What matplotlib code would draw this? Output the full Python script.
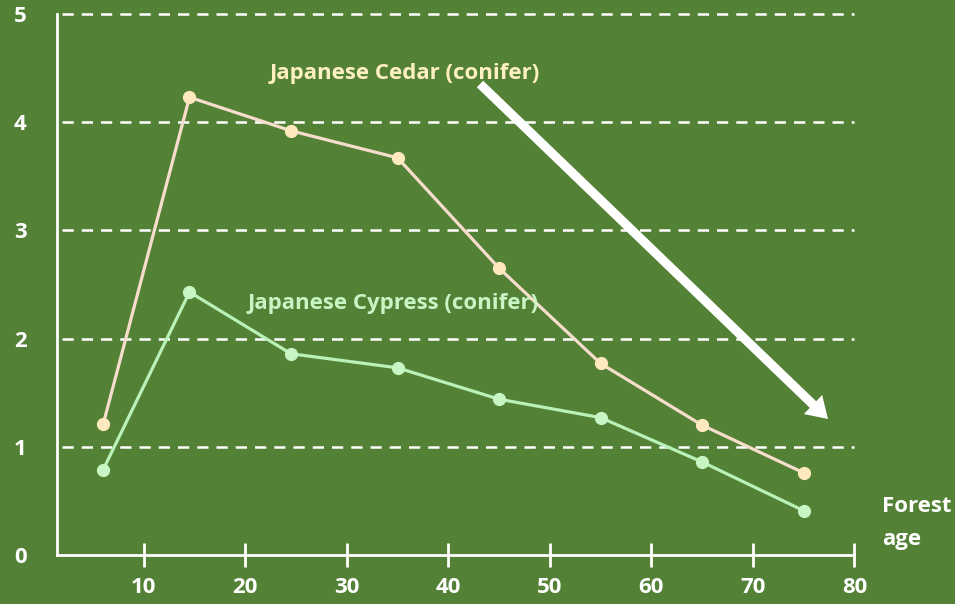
import matplotlib.pyplot as plt

plt.rcParams['font.family'] = ['Open Sans', 'DejaVu Sans']

# forest age (years) and value per stand
forest_age = [6, 14.5, 24.5, 35, 45, 55, 65, 75]
cedar = [1.21, 4.23, 3.92, 3.67, 2.65, 1.77, 1.20, 0.76]
cypress = [0.79, 2.43, 1.86, 1.73, 1.44, 1.27, 0.86, 0.41]

x_ticks = [10, 20, 30, 40, 50, 60, 70, 80]
y_ticks = [0, 1, 2, 3, 4, 5]

bg = '#538135'
H = 604  # figure height in pixels, for placing annotations from the top

fig = plt.figure(figsize=(9.55, 6.04), dpi=100, facecolor=bg)
ax = fig.add_axes([0.0597, 0.081, 0.835, 0.896], facecolor=bg)

for y in y_ticks[1:]:
    ax.axhline(y, xmin=0.006, color='white', lw=1.8, ls=(0, (4.5, 3.2)),
               zorder=1, clip_on=False)

ax.plot(forest_age, cedar, color='#F7DDCC', lw=2.3, marker='o', markersize=8.5,
        markerfacecolor='#FFE9BE', markeredgecolor='#FFE9BE', zorder=3)
ax.plot(forest_age, cypress, color='#B8F2B8', lw=2.3, marker='o', markersize=8.5,
        markerfacecolor='#C8F5C4', markeredgecolor='#C8F5C4', zorder=3)

fig.text(405, H - 74, 'Japanese Cedar (conifer)', transform=None, color='#FFF0C4',
         fontsize=16, fontweight='bold', ha='center', va='center')
fig.text(393, H - 304, 'Japanese Cypress (conifer)', transform=None, color='#C8F5C4',
         fontsize=16, fontweight='bold', ha='center', va='center')

# downward trend arrow
ax.annotate('', xy=(828, H - 419), xytext=(480, H - 84),
            xycoords='figure pixels', textcoords='figure pixels',
            arrowprops=dict(arrowstyle='simple,head_length=0.75,head_width=0.95,tail_width=0.33',
                            color='white', mutation_scale=20, lw=0,
                            shrinkA=0, shrinkB=0), zorder=4)

fig.text(882, H - 507, 'Forest', transform=None, color='white',
         fontsize=16, fontweight='bold', ha='left', va='center')
fig.text(882, H - 540, 'age', transform=None, color='white',
         fontsize=16, fontweight='bold', ha='left', va='center')

ax.set_xlim(1.45, 80)
ax.set_ylim(0, 5)
ax.set_xticks(x_ticks)
ax.set_yticks(y_ticks)

for side in ['top', 'right']:
    ax.spines[side].set_visible(False)
for side in ['left', 'bottom']:
    ax.spines[side].set_color('white')
    ax.spines[side].set_linewidth(2)

ax.tick_params(axis='x', colors='white', direction='inout', length=17, width=2,
               labelsize=16, pad=7)
ax.tick_params(axis='y', colors='white', length=0, labelsize=16, pad=22)
for lab in ax.get_xticklabels() + ax.get_yticklabels():
    lab.set_fontweight('bold')

fig.savefig('out.png', dpi=100, facecolor=bg)
